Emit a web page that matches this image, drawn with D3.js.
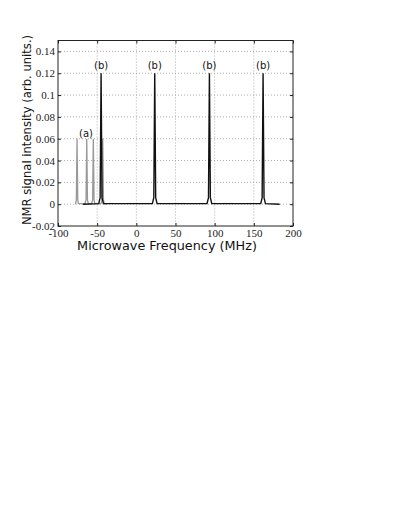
<!DOCTYPE html>
<html lang="en">
<head>
<meta charset="UTF-8">
<title>NMR signal vs microwave frequency</title>
<script src="https://d3js.org/d3.v7.min.js"></script>
<style>
  body { margin: 0; background: #fff; }
  .tick text { font-family: "Liberation Serif", "Times New Roman", serif; font-size: 11px; fill: #222; }
  .grid line { stroke: #999; stroke-dasharray: 1,2; stroke-width: 0.8; }
  .axis-label { font-family: "DejaVu Sans", Verdana, sans-serif; fill: #111; }
  .peak-label { font-family: "DejaVu Sans", Verdana, sans-serif; font-size: 10px; fill: #111; }
</style>
</head>
<body>
<svg width="395" height="511"></svg>
<script>
// x ticks / y ticks
const xTicks = [-100, -50, 0, 50, 100, 150, 200];
const yTicks = [-0.02, 0, 0.02, 0.04, 0.06, 0.08, 0.1, 0.12, 0.14];

// trace (a), gray: four peaks of ~0.06
const traceA = [
  [-78, 0], [-77.5, 0.0005], [-76.6, 0.004], [-75.7, 0.06], [-74.8, 0.004], [-73.9, 0.0005],
  [-65.5, 0.0005], [-64.2, 0.004], [-63.3, 0.06], [-62.4, 0.004], [-61.3, 0.0005],
  [-57.1, 0.0005], [-55.8, 0.004], [-54.9, 0.06], [-54.0, 0.004], [-52.9, 0.0005],
  [-45.1, 0.0005], [-43.8, 0.004], [-42.9, 0.06], [-42.0, 0.004], [-40.9, 0.0005], [-38, 0]
];
// trace (b), black: four peaks of ~0.12
const traceB = [
  [-68, 0], [-48, 0.0005], [-46.2, 0.006], [-45, 0.12], [-43.8, 0.006], [-42, 0.0005],
  [20.5, 0.0005], [22.3, 0.006], [23.5, 0.12], [24.7, 0.006], [26.5, 0.0005],
  [90.3, 0.0005], [92.1, 0.006], [93.3, 0.12], [94.5, 0.006], [96.3, 0.0005],
  [158.8, 0.0005], [160.6, 0.006], [161.8, 0.12], [163, 0.006], [164.8, 0.0005], [183, 0]
];
const labelsA = [{ x: -64.2, y: 0.0615, t: "(a)" }];
const labelsB = [
  { x: -45, y: 0.1235, t: "(b)" }, { x: 23.5, y: 0.1235, t: "(b)" },
  { x: 93.3, y: 0.1235, t: "(b)" }, { x: 161.8, y: 0.1235, t: "(b)" }
];

const mLeft = 58, mRight = 293, mTop = 40.5, mBottom = 226;
const svg = d3.select("svg");
const x = d3.scaleLinear().domain([-100, 200]).range([mLeft, mRight]);
const y = d3.scaleLinear().domain([-0.02, 0.15]).range([mBottom, mTop]);

// grid
const grid = svg.append("g").attr("class", "grid");
grid.selectAll(".gx").data(xTicks.slice(1, -1)).join("line")
  .attr("x1", d => x(d)).attr("x2", d => x(d)).attr("y1", mTop).attr("y2", mBottom);
grid.selectAll(".gy").data(yTicks.slice(1)).join("line")
  .attr("y1", d => y(d)).attr("y2", d => y(d)).attr("x1", mLeft).attr("x2", mRight);

// axes
const fmt = d => String(+d.toFixed(2));
svg.append("g").attr("transform", `translate(0,${mBottom})`)
  .call(d3.axisBottom(x).tickValues(xTicks).tickSize(-3).tickPadding(3).tickFormat(fmt))
  .call(g => g.select(".domain").remove());
svg.append("g").attr("transform", `translate(${mLeft},0)`)
  .call(d3.axisLeft(y).tickValues(yTicks).tickSize(-3).tickPadding(3).tickFormat(fmt))
  .call(g => g.select(".domain").remove());
svg.append("g").attr("transform", `translate(0,${mTop})`)
  .call(d3.axisTop(x).tickValues(xTicks).tickSize(-3).tickFormat(""))
  .call(g => g.select(".domain").remove());
svg.append("g").attr("transform", `translate(${mRight},0)`)
  .call(d3.axisRight(y).tickValues(yTicks).tickSize(-3).tickFormat(""))
  .call(g => g.select(".domain").remove());
svg.selectAll(".tick line").attr("stroke", "#222");

svg.append("rect").attr("x", mLeft).attr("y", mTop)
  .attr("width", mRight - mLeft).attr("height", mBottom - mTop)
  .attr("fill", "none").attr("stroke", "#222").attr("stroke-width", 1);

// traces
const line = d3.line().x(d => x(d[0])).y(d => y(d[1]));
svg.append("path").datum(traceA).attr("d", line)
  .attr("fill", "none").attr("stroke", "#999").attr("stroke-width", 1.3);
svg.append("path").datum(traceB).attr("d", line)
  .attr("fill", "none").attr("stroke", "#111").attr("stroke-width", 1.4);

// peak labels
svg.selectAll(".pl").data(labelsA.concat(labelsB)).join("text")
  .attr("class", "peak-label").attr("text-anchor", "middle")
  .attr("x", d => x(d.x)).attr("y", d => y(d.y)).text(d => d.t);

// axis titles
svg.append("text").attr("class", "axis-label").attr("text-anchor", "middle")
  .style("font-size", "12.8px")
  .attr("x", 167).attr("y", 250).text("Microwave Frequency (MHz)");
svg.append("text").attr("class", "axis-label").attr("text-anchor", "middle")
  .style("font-size", "11.6px")
  .attr("transform", "translate(31,130) rotate(-90)")
  .text("NMR signal intensity (arb. units.)");
</script>
</body>
</html>
